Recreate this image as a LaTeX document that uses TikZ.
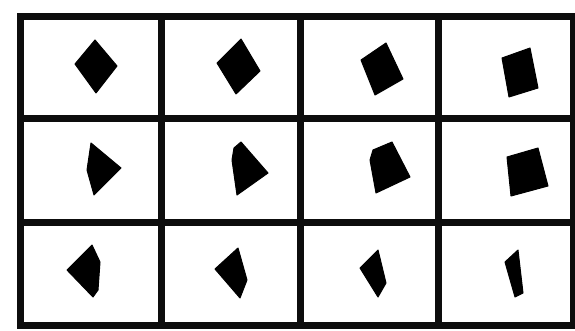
\documentclass[tikz,border=0pt]{standalone}
\begin{document}
\begin{tikzpicture}[x=1pt,y=-1pt,
  gridline/.style={draw=black!95,line width=7pt},
  blob/.style={fill=black,draw=black,line width=1pt,line join=round}]
\useasboundingbox (0,0) rectangle (575,331);
\fill[white] (0,0) rectangle (575,331);
% grid
\draw[gridline] (20,17) rectangle (573,325);
\foreach \xx in {161,300,438} \draw[gridline] (\xx,17) -- (\xx,325);
\foreach \yy in {119,222} \draw[gridline] (20,\yy) -- (573,\yy);
% row 1
\fill[blob] (95,40) -- (117,66) -- (96,93) -- (75,64) -- cycle;
\fill[blob] (241,39) -- (260,71) -- (236,94) -- (217,63) -- cycle;
\fill[blob] (386,43) -- (403,79) -- (375,95) -- (361,60) -- cycle;
\fill[blob] (502,58) -- (530,48) -- (538,88) -- (509,97) -- cycle;
% row 2
\fill[blob] (91,143) -- (121,168) -- (94,195) -- (87,170) -- cycle;
\fill[blob] (241,142) -- (268,173) -- (237,195) -- (232,160) -- (234,148) -- cycle;
\fill[blob] (373,150) -- (392,142) -- (410,177) -- (376,193) -- (370,160) -- cycle;
\fill[blob] (507,157) -- (538,148) -- (548,186) -- (511,196) -- cycle;
% row 3
\fill[blob] (92,245) -- (100,262) -- (98,290) -- (93,297) -- (67,270) -- cycle;
\fill[blob] (238,248) -- (247,280) -- (240,298) -- (215,269) -- cycle;
\fill[blob] (378,250) -- (386,283) -- (378,297) -- (360,268) -- cycle;
\fill[blob] (518,250) -- (523,293) -- (515,297) -- (505,262) -- cycle;
\end{tikzpicture}
\end{document}
